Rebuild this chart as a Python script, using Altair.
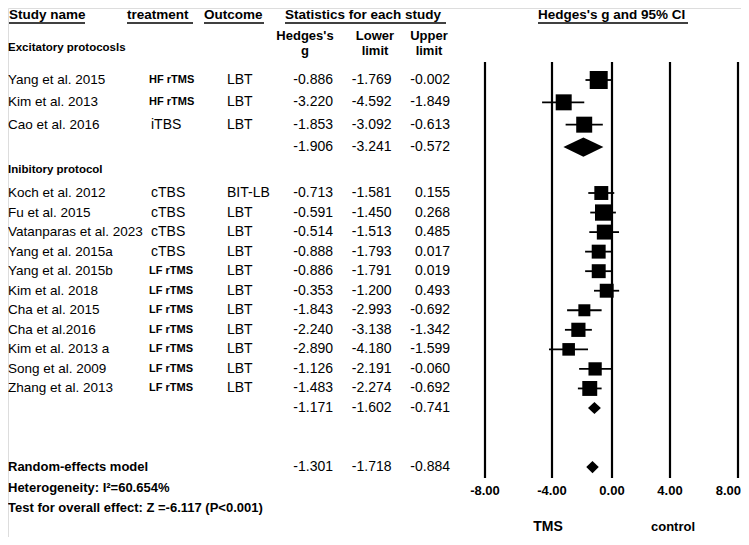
import altair as alt
import pandas as pd

FONT = "Liberation Sans"

# ---------------- data ----------------
studies = ["Yang et al. 2015", "Kim et al. 2013", "Cao et al. 2016",
           "Koch et al. 2012", "Fu et al. 2015", "Vatanparas et al. 2023",
           "Yang  et al. 2015a", "Yang  et al. 2015b", "Kim et al. 2018",
           "Cha et al. 2015", "Cha et al.2016", "Kim et al. 2013 a",
           "Song et al. 2009", "Zhang et al. 2013"]
treatments = ["HF rTMS", "HF rTMS", "iTBS",
              "cTBS", "cTBS", "cTBS", "cTBS", "LF rTMS", "LF rTMS",
              "LF rTMS", "LF rTMS", "LF rTMS", "LF rTMS", "LF rTMS"]
outcomes = ["LBT", "LBT", "LBT",
            "BIT-LB", "LBT", "LBT", "LBT", "LBT", "LBT",
            "LBT", "LBT", "LBT", "LBT", "LBT"]
hedges_g = [-0.886, -3.220, -1.853,
            -0.713, -0.591, -0.514, -0.888, -0.886, -0.353,
            -1.843, -2.240, -2.890, -1.126, -1.483]
lower = [-1.769, -4.592, -3.092,
         -1.581, -1.450, -1.513, -1.793, -1.791, -1.200,
         -2.993, -3.138, -4.180, -2.191, -2.274]
upper = [-0.002, -1.849, -0.613,
         0.155, 0.268, 0.485, 0.017, 0.019, 0.493,
         -0.692, -1.342, -1.599, -0.060, -0.692]
weights = [9.0, 7.1, 7.1,
           5.4, 7.4, 6.2, 5.4, 5.4, 5.4,
           4.0, 5.6, 4.4, 4.9, 6.2]
groups = ["exc"] * 3 + ["inh"] * 11

summary_names = ["exc", "inh", "overall"]
summary_g = [-1.906, -1.171, -1.301]
summary_lo = [-3.241, -1.602, -1.718]
summary_hi = [-0.572, -0.741, -0.884]

ticks = [-8, -4, 0, 4, 8]
tick_labels = ["-8.00", "-4.00", "0.00", "4.00", "8.00"]

# ---------------- layout (row slots) ----------------
row_idx = []
r_exc, r_inh = 0, 5
for grp in groups:
    if grp == "exc":
        row_idx.append(r_exc); r_exc += 1
    else:
        row_idx.append(r_inh); r_inh += 1
summary_idx = {"exc": 3, "inh": 16, "overall": 19}
diamond_half = {"exc": 0.42, "inh": 0.31, "overall": 0.31}

fmt = lambda v: f"{v:.3f}"
df = pd.DataFrame({
    "study": studies, "treatment": treatments, "outcome": outcomes,
    "g": hedges_g, "lo": lower, "hi": upper, "w": weights, "idx": row_idx,
})
df["bold_tr"] = df["treatment"].str.contains("rTMS")

num_rows = pd.DataFrame({
    "idx": row_idx + [summary_idx[s] for s in summary_names],
    "g": [fmt(v) for v in hedges_g + summary_g],
    "lo": [fmt(v) for v in lower + summary_lo],
    "hi": [fmt(v) for v in upper + summary_hi],
})

dia = []
for s, g, lo, hi in zip(summary_names, summary_g, summary_lo, summary_hi):
    i, h = summary_idx[s], diamond_half[s]
    dia += [{"grp": s, "x": lo, "yt": i, "yb": i},
            {"grp": s, "x": g, "yt": i - h, "yb": i + h},
            {"grp": s, "x": hi, "yt": i, "yb": i}]
dia = pd.DataFrame(dia)

labels_bottom = pd.DataFrame({
    "idx": [-1.45, 4, 19, 20, 21],
    "t": ["Excitatory  protocosls", "Inibitory protocol", "Random-effects model",
          "Heterogeneity: I\u00b2=60.654%", "Test for overall effect: Z =-6.117 (P<0.001)"],
    "sz": [11.5, 11.5, 13, 13, 13],
})

tick_df = pd.DataFrame({"t": ticks, "lab": tick_labels})
tick_df["last"] = tick_df["t"] == max(ticks)

# ---------------- scales ----------------
xs = alt.Scale(domain=[-8, -4, 0, 4, 8], range=[477, 544, 604, 662, 730], nice=False, zero=False)
ys = alt.Scale(domain=[0, 3, 5, 16, 19, 21], range=[72, 139, 185, 400, 459, 500], nice=False, zero=False)
Y = alt.Y("idx:Q", scale=ys, axis=None)

dummy = pd.DataFrame({"a": [0]})


def label(text, x, y, align="left", size=13.5, weight="bold", baseline="middle"):
    return alt.Chart(dummy).mark_text(
        text=text, align=align, baseline=baseline, fontSize=size,
        fontWeight=weight, font=FONT, color="black"
    ).encode(x=alt.value(x), y=alt.value(y))


def uline(x1, x2, y):
    return alt.Chart(dummy).mark_rule(color="black", strokeWidth=1.5).encode(
        x=alt.value(x1), x2=alt.value(x2), y=alt.value(y))


layers = []

# vertical reference lines
layers.append(alt.Chart(tick_df).mark_rule(color="black", strokeWidth=2.2).encode(
    x=alt.X("t:Q", scale=xs, axis=None), y=alt.value(54), y2=alt.value(470)))
layers.append(alt.Chart(tick_df).transform_filter("!datum.last").mark_text(
    fontSize=13, fontWeight="bold", font=FONT, color="black", baseline="middle").encode(
    x=alt.X("t:Q", scale=xs, axis=None), y=alt.value(483), text="lab:N"))
layers.append(alt.Chart(tick_df).transform_filter("datum.last").mark_text(
    fontSize=13, fontWeight="bold", font=FONT, color="black", baseline="middle",
    align="right", dx=3).encode(
    x=alt.X("t:Q", scale=xs, axis=None), y=alt.value(483), text="lab:N"))

# whiskers and squares
layers.append(alt.Chart(df).mark_rule(color="black", strokeWidth=1.8).encode(
    x=alt.X("lo:Q", scale=xs, axis=None), x2="hi:Q", y=Y))
layers.append(alt.Chart(df).mark_point(shape="square", filled=True, opacity=1, color="black").encode(
    x=alt.X("g:Q", scale=xs, axis=None), y=Y,
    size=alt.Size("w:Q", scale=alt.Scale(domain=[0, 9.0], range=[0, 324]), legend=None)))

# diamonds
layers.append(alt.Chart(dia).mark_area(color="black", opacity=1).encode(
    x=alt.X("x:Q", scale=xs, axis=None),
    y=alt.Y("yt:Q", scale=ys, axis=None), y2="yb:Q", detail="grp:N"))

# table text
txt = dict(font=FONT, color="black", baseline="middle")
layers.append(alt.Chart(df).mark_text(align="left", fontSize=13.5, **txt).encode(
    x=alt.value(0), y=Y, text="study:N"))
layers.append(alt.Chart(df).transform_filter("datum.bold_tr").mark_text(
    align="left", fontSize=11, fontWeight="bold", **txt).encode(
    x=alt.value(141), y=Y, text="treatment:N"))
layers.append(alt.Chart(df).transform_filter("!datum.bold_tr").mark_text(
    align="left", fontSize=14, **txt).encode(
    x=alt.value(143), y=Y, text="treatment:N"))
layers.append(alt.Chart(df).mark_text(align="left", fontSize=14, **txt).encode(
    x=alt.value(219), y=Y, text="outcome:N"))
for col, xr in [("g", 325), ("lo", 383.5), ("hi", 442)]:
    layers.append(alt.Chart(num_rows).mark_text(align="right", fontSize=14, **txt).encode(
        x=alt.value(xr), y=Y, text=f"{col}:N"))

layers.append(alt.Chart(labels_bottom).mark_text(align="left", fontWeight="bold", **txt).encode(
    x=alt.value(0), y=Y, text="t:N", size=alt.Size("sz:Q", scale=None)))

# headers
layers += [
    label("Study name", 1, 11, baseline="alphabetic"),
    label("treatment", 119, 11, baseline="alphabetic"),
    label("Outcome", 196, 11, baseline="alphabetic"),
    label("Statistics for each study", 277, 11, baseline="alphabetic"),
    label("Hedges's g and 95% CI", 530, 11, baseline="alphabetic"),
    uline(1, 77, 15), uline(119, 185, 15), uline(196, 256, 15),
    uline(277, 438, 15), uline(530, 680, 15),
    label("Hedges's", 297, 28, align="center", size=13),
    label("g", 297, 43, align="center", size=13),
    label("Lower", 367, 28, align="center", size=13),
    label("limit", 367, 43, align="center", size=13),
    label("Upper", 421, 28, align="center", size=13),
    label("limit", 421, 43, align="center", size=13),
    label("TMS", 540, 519, align="center", size=14),
    label("control", 665, 519, align="center", size=13),
]

chart = alt.layer(*layers).properties(
    width=733, height=529, padding=0, autosize="none"
).configure_view(stroke=None).configure(font=FONT)

chart.save("out.html", embed_options={"renderer": "svg", "actions": False})
